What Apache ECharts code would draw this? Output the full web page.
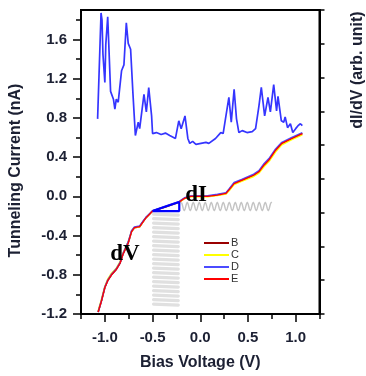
<!DOCTYPE html>
<html>
<head>
<meta charset="utf-8">
<script src="https://cdn.jsdelivr.net/npm/echarts@6/dist/echarts.min.js"></script>
<style>
  html, body { margin: 0; padding: 0; background: #fff; }
  #main { width: 366px; height: 376px; }
</style>
</head>
<body>
<div id="main"></div>
<script>
// dI/dV spectrum (blue), read against the left axis
const didvBias = [
  -1.076, -1.04, -1.03, -1.02, -1.0,
  -0.99, -0.97, -0.96, -0.94, -0.91,
  -0.895, -0.88, -0.86, -0.825, -0.80,
  -0.775, -0.755, -0.73, -0.705, -0.68,
  -0.65, -0.635, -0.59, -0.565, -0.54,
  -0.51, -0.50, -0.46, -0.41, -0.365,
  -0.32, -0.26, -0.225, -0.20, -0.16,
  -0.13, -0.11, -0.08, -0.045, 0.007,
  0.06, 0.09, 0.16, 0.215, 0.24,
  0.30, 0.325, 0.355, 0.38, 0.405,
  0.44, 0.49, 0.545, 0.58, 0.615,
  0.64, 0.675, 0.71, 0.735, 0.77,
  0.80, 0.815, 0.85, 0.875, 0.89,
  0.915, 0.945, 0.97, 1.0, 1.025,
  1.05, 1.07
]
const didvValues = [
  0.79, 1.87, 1.80, 1.45, 1.16,
  1.55, 1.83, 1.58, 1.07, 0.99,
  0.89, 0.99, 0.96, 1.28, 1.34,
  1.77, 1.56, 1.50, 1.04, 0.62,
  0.755, 0.69, 1.04, 0.86, 1.11,
  0.82, 0.64, 0.65, 0.63, 0.645,
  0.62, 0.59, 0.77, 0.69, 0.82,
  0.59, 0.54, 0.56, 0.53, 0.54,
  0.55, 0.54, 0.59, 0.65, 0.64,
  1.01, 0.755, 1.09, 0.79, 0.65,
  0.67, 0.65, 0.66, 0.69, 0.92,
  1.11, 0.82, 1.01, 0.86, 1.14,
  0.87, 1.02, 0.77, 0.755, 0.81,
  0.70, 0.74, 0.65, 0.69, 0.72,
  0.74, 0.72
]

// I-V curves B, C, D, E (nA)
const ivBias = [
  -1.07, -1.035, -1.0, -0.97, -0.93, -0.88, -0.84, -0.81, -0.755, -0.72,
  -0.69, -0.635, -0.60, -0.57, -0.54, -0.50, -0.36, -0.22, -0.165, -0.10,
  0.077, 0.18, 0.27, 0.30, 0.355, 0.44, 0.56, 0.615, 0.67, 0.72,
  0.79, 0.855, 0.96, 1.07
]
const ivB = [
  -1.18, -1.065, -0.93, -0.86, -0.80, -0.745, -0.68, -0.59, -0.475, -0.36,
  -0.32, -0.31, -0.26, -0.22, -0.19, -0.15, -0.105, -0.058, -0.02, 0.0,
  0.0, 0.013, 0.03, 0.064, 0.13, 0.165, 0.215, 0.25, 0.32, 0.37,
  0.47, 0.54, 0.59, 0.64
]
const ivC = [
  -1.17, -1.05, -0.92, -0.845, -0.785, -0.735, -0.665, -0.58, -0.465, -0.355,
  -0.32, -0.31, -0.26, -0.22, -0.19, -0.15, -0.105, -0.06, -0.022, -0.002,
  -0.003, 0.008, 0.025, 0.055, 0.12, 0.155, 0.203, 0.238, 0.305, 0.355,
  0.455, 0.525, 0.578, 0.628
]
const ivD = [
  -1.18, -1.06, -0.925, -0.855, -0.795, -0.74, -0.675, -0.585, -0.465, -0.35,
  -0.313, -0.303, -0.255, -0.215, -0.185, -0.148, -0.1, -0.052, -0.015, 0.004,
  0.005, 0.02, 0.037, 0.072, 0.14, 0.175, 0.226, 0.262, 0.334, 0.384,
  0.482, 0.55, 0.6, 0.648
]
const ivE = [
  -1.18, -1.065, -0.93, -0.86, -0.80, -0.745, -0.68, -0.59, -0.475, -0.36,
  -0.32, -0.31, -0.26, -0.22, -0.19, -0.15, -0.105, -0.058, -0.02, 0.0,
  0.0, 0.013, 0.03, 0.064, 0.13, 0.165, 0.215, 0.25, 0.32, 0.37,
  0.47, 0.54, 0.59, 0.64
]

const yTickLabels = [-1.2, -0.8, -0.4, 0.0, 0.4, 0.8, 1.2, 1.6]
const yMinorTicks = [-1.0, -0.6, -0.2, 0.2, 0.6, 1.0, 1.4, 1.8]
const xTickLabels = [-1.0, -0.5, 0.0, 0.5, 1.0]
const xMinorTicks = [-1.25, -0.75, -0.25, 0.25, 0.75, 1.25]
const rightTicks = [0, 1, 2, 3, 4, 5, 6, 7, 8, 9]

// dI / dV triangle on the I-V curve
const triBias = [-0.5, -0.22, -0.22, -0.5]
const triCurrent = [-0.15, -0.058, -0.15, -0.15]

const pair = (xs, ys) => xs.map((x, i) => [x, ys[i]])

const ink = '#1c2033'
const labelFont = { color: ink, fontSize: 15, fontWeight: 'bold', fontFamily: 'Liberation Sans, Arial, sans-serif' }
const blackLine = { onZero: false, lineStyle: { color: '#000', width: 2 } }

const ivSeries = (name, data, color, width) => ({
  name, type: 'line', data: pair(ivBias, data), showSymbol: false,
  lineStyle: { color, width }, itemStyle: { color }, z: 3
})

const option = {
  animation: false,
  backgroundColor: '#fff',
  grid: { left: 79.5, right: 46.5, top: 10, bottom: 59, show: true, borderColor: '#000', borderWidth: 2 },
  legend: {
    data: ['B', 'C', 'D', 'E'],
    orient: 'vertical',
    left: 199, top: 232,
    icon: 'rect', itemWidth: 25, itemHeight: 2, itemGap: 0,
    textStyle: { color: '#333', fontSize: 11, fontFamily: 'Liberation Sans, Arial, sans-serif', lineHeight: 12, padding: [0, 0, 0, -3] }
  },
  xAxis: [
    {
      type: 'value', min: -1.25, max: 1.25,
      name: 'Bias Voltage (V)', nameLocation: 'middle', nameGap: 41,
      nameTextStyle: { color: ink, fontSize: 16, fontWeight: 'bold', fontFamily: 'Liberation Sans, Arial, sans-serif' },
      axisLine: blackLine,
      axisTick: { customValues: xTickLabels, length: 8, lineStyle: { color: '#000', width: 1.5 } },
      axisLabel: Object.assign({ customValues: xTickLabels, margin: 16, formatter: v => v.toFixed(1) }, labelFont),
      splitLine: { show: false }
    },
    {
      type: 'value', min: -1.25, max: 1.25, position: 'bottom', offset: 0,
      axisLine: { show: false, onZero: false },
      axisTick: { customValues: xMinorTicks, length: 5, lineStyle: { color: '#000', width: 1.5 } },
      axisLabel: { show: false }, splitLine: { show: false }
    }
  ],
  yAxis: [
    {
      type: 'value', min: -1.2, max: 1.9, position: 'left',
      name: 'Tunneling Current (nA)', nameLocation: 'middle', nameGap: 57,
      nameTextStyle: { color: ink, fontSize: 16, fontWeight: 'bold', fontFamily: 'Liberation Sans, Arial, sans-serif', padding: [0, 17, 0, 0] },
      axisLine: Object.assign({ show: true }, blackLine),
      axisTick: { customValues: yTickLabels, length: 8, lineStyle: { color: '#000', width: 1.5 } },
      axisLabel: Object.assign({ customValues: yTickLabels, margin: 14, formatter: v => v.toFixed(1) }, labelFont),
      splitLine: { show: false }
    },
    {
      type: 'value', min: 0, max: 9, position: 'right', offset: 0,
      axisLine: Object.assign({ show: true }, blackLine),
      axisTick: { show: true, customValues: rightTicks, length: 5, lineStyle: { color: '#000', width: 1.5 } },
      axisLabel: { show: false }, splitLine: { show: false }
    },
    {
      type: 'value', min: -1.2, max: 1.9, position: 'left', offset: 0,
      axisLine: { show: false, onZero: false },
      axisTick: { customValues: yMinorTicks, length: 5, lineStyle: { color: '#000', width: 1.5 } },
      axisLabel: { show: false }, splitLine: { show: false }
    }
  ],
  series: [
    {
      name: 'dI/dV', type: 'line', data: pair(didvBias, didvValues), showSymbol: false,
      lineStyle: { color: '#3535ff', width: 1.7 }, z: 3
    },
    ivSeries('B', ivB, '#9a0000', 1.6),
    ivSeries('C', ivC, '#ffff00', 1.6),
    ivSeries('D', ivD, '#4b4bff', 1.6),
    ivSeries('E', ivE, '#ff0000', 1.3),
    {
      name: 'tri', type: 'line', data: pair(triBias, triCurrent), showSymbol: false,
      lineStyle: { color: '#0000ff', width: 2.2 }, z: 5
    }
  ]
}

const chart = echarts.init(document.getElementById('main'))
chart.setOption(option)

// springs drawn around the triangle, anchored to data coordinates
const p = (x, y) => chart.convertToPixel({ xAxisIndex: 0, yAxisIndex: 0 }, [x, y])
const s0 = p(-0.5, -0.15), s1 = p(-0.22, -1.1)
const springV = []
for (let y = s0[1] + 3; y <= s1[1]; y += 4.5) {
  springV.push({
    type: 'line', z: 1,
    shape: { x1: s0[0] + 1, y1: y, x2: s1[0] - 1, y2: y + 1 },
    style: { stroke: '#e0e0e0', lineWidth: 3.2, lineCap: 'round' }
  })
}
const w0 = p(-0.22, -0.15), w1 = p(0.75, -0.058)
const mid = (w0[1] + w1[1]) / 2, amp = (w0[1] - w1[1]) / 2 - 0.5
const springH = []
for (let x = w0[0] + 2; x <= w1[0]; x += 0.5) {
  springH.push([x, mid - amp * Math.cos((x - w0[0] - 2) / 6 * 2 * Math.PI)])
}

chart.setOption({
  graphic: springV.concat([
    { type: 'polyline', shape: { points: springH }, style: { stroke: '#c4c4c4', lineWidth: 1.4, fill: null }, z: 1 },
    { type: 'text', x: 125, y: 254, z: 10, style: { text: 'dV', font: 'bold 23px "Liberation Serif", serif', fill: '#000', align: 'center', verticalAlign: 'middle' } },
    { type: 'text', x: 196, y: 195, z: 10, style: { text: 'dI', font: 'bold 23px "Liberation Serif", serif', fill: '#000', align: 'center', verticalAlign: 'middle' } },
    { type: 'text', x: 358, y: 70, rotation: Math.PI / 2, style: { text: 'dI/dV (arb. unit)', font: 'bold 16px "Liberation Sans", Arial, sans-serif', fill: ink, align: 'center', verticalAlign: 'middle' } }
  ])
})
</script>
</body>
</html>
